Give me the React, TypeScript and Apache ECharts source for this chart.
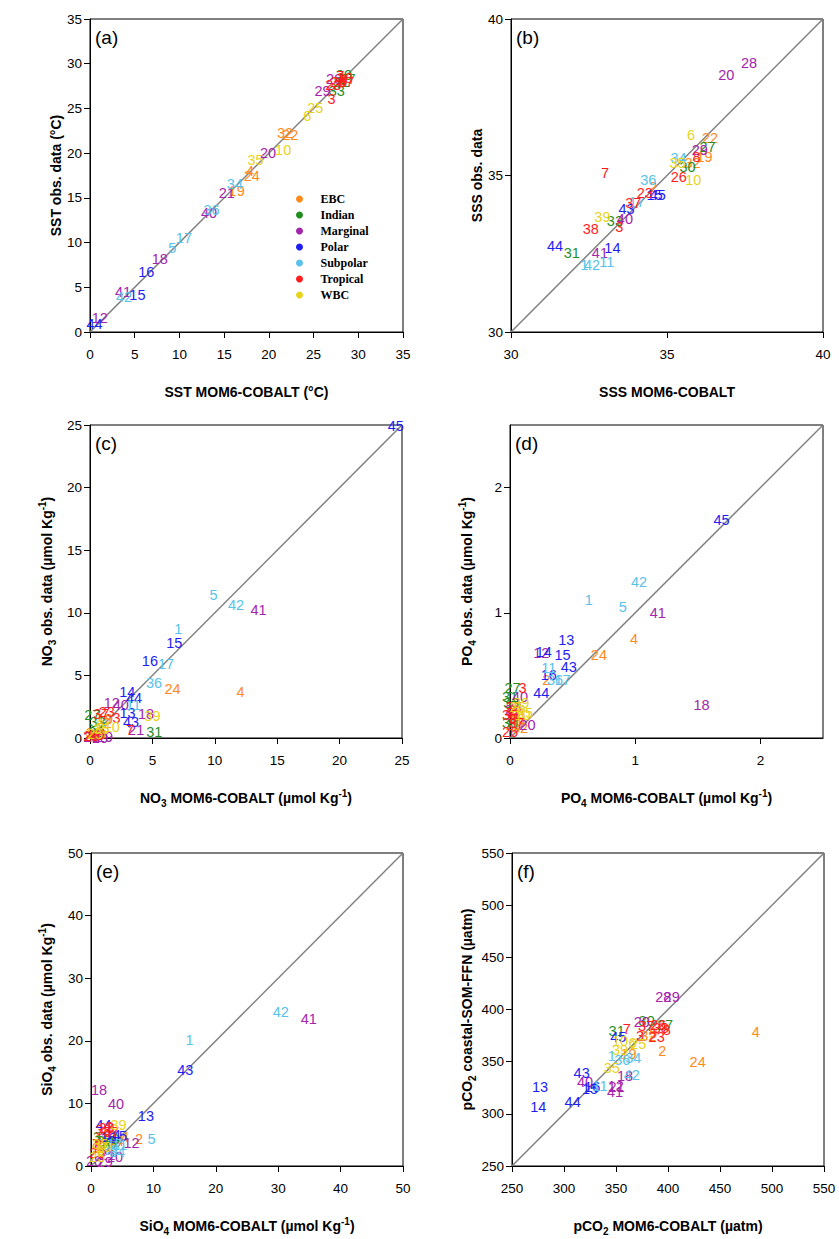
import React, { useEffect, useRef } from 'react';
import * as echarts from 'echarts';

const FONT = '"Liberation Sans", Arial, Helvetica, sans-serif';
const SERIF = '"Liberation Serif", "Times New Roman", serif';

const REGIONS = ['EBC', 'Indian', 'Marginal', 'Polar', 'Subpolar', 'Tropical', 'WBC'];
const REGION_COLORS = ['#FF8A1C', '#1F8E1F', '#A424AC', '#1E1EF2', '#58C2EA', '#FF1C1C', '#E8D31C'];

// region of each site, sites 1..45
const SITE_REGION = [
  'Subpolar', 'EBC', 'Tropical', 'EBC', 'Subpolar', 'WBC', 'Tropical', 'Tropical', 'EBC', 'WBC',
  'Subpolar', 'Marginal', 'Polar', 'Polar', 'Polar', 'Polar', 'Subpolar', 'Marginal', 'EBC', 'Marginal',
  'Marginal', 'EBC', 'Tropical', 'EBC', 'WBC', 'Tropical', 'Indian', 'Marginal', 'Marginal', 'Indian',
  'Indian', 'EBC', 'Indian', 'Subpolar', 'WBC', 'Subpolar', 'Tropical', 'Tropical', 'WBC', 'Marginal',
  'Marginal', 'Subpolar', 'Polar', 'Polar', 'Polar',
];

type Pt = [number, number, number]; // [site, model, obs]

const SST: Pt[] = [
  [44, 0.5, 0.9], [12, 1.1, 1.6],
  [42, 3.8, 3.9], [41, 3.7, 4.5], [15, 5.3, 4.1],
  [16, 6.3, 6.7], [18, 7.8, 8.2], [5, 9.2, 9.4], [17, 10.5, 10.5], [40, 13.3, 13.3], [36, 13.6, 13.6],
  [21, 15.3, 15.5], [19, 16.4, 15.8], [34, 16.2, 16.6], [24, 18.1, 17.4], [4, 17.9, 18.0], [35, 18.5, 19.2],
  [20, 19.9, 20.0], [10, 21.6, 20.3], [32, 21.8, 22.2], [22, 22.4, 22.0], [6, 24.3, 24.2], [25, 25.2, 25.0],
  [29, 26.0, 26.9], [3, 27.0, 26.1], [33, 27.6, 26.9], [23, 27.2, 27.6], [28, 27.3, 28.3], [26, 27.8, 28.0],
  [7, 28.0, 28.6], [8, 28.3, 28.2], [31, 28.1, 27.9], [30, 28.4, 28.7], [37, 28.6, 28.0], [38, 28.5, 28.4],
  [27, 28.8, 28.3],
];

const SSS: Pt[] = [
  [28, 37.63, 38.6], [20, 36.9, 38.2], [6, 35.77, 36.3], [22, 36.38, 36.2], [27, 36.3, 35.9],
  [29, 36.05, 35.8], [8, 35.95, 35.6], [19, 36.2, 35.6], [34, 35.37, 35.55], [35, 35.34, 35.4],
  [32, 35.82, 35.4], [30, 35.66, 35.28], [26, 35.38, 34.96], [10, 35.84, 34.86], [7, 33.01, 35.07],
  [36, 34.4, 34.86], [2, 34.56, 34.64], [23, 34.29, 34.43], [15, 34.6, 34.38], [45, 34.7, 34.38],
  [37, 33.92, 34.11], [17, 34.03, 34.16], [43, 33.7, 33.92], [39, 32.93, 33.68], [38, 32.56, 33.3],
  [3, 33.47, 33.36], [33, 33.33, 33.55], [40, 33.65, 33.6], [44, 31.41, 32.75], [31, 31.95, 32.53],
  [41, 32.85, 32.53], [14, 33.25, 32.67], [1, 32.35, 32.14], [42, 32.6, 32.14], [11, 33.07, 32.25],
];

const NO3: Pt[] = [
  [28, 0.1, 0.05], [22, 0.2, 0.1], [26, 0.1, 0.15], [38, 0.5, 0.2], [25, 0.4, 0.3], [32, 0.3, 0.4],
  [30, 0.5, 0.5], [20, 0.8, 0.0], [9, 1.0, 0.3], [35, 0.9, 0.7], [6, 0.8, 1.0], [33, 0.6, 1.3],
  [19, 1.2, 1.5], [37, 0.9, 1.9], [2, 1.4, 1.2], [29, 1.2, 0.1], [10, 1.74, 0.9], [27, 0.18, 1.84],
  [3, 2.13, 1.62], [23, 1.34, 2.1], [12, 1.74, 2.82], [40, 2.46, 2.64], [11, 3.47, 2.64],
  [14, 2.99, 3.65], [44, 3.53, 3.22], [13, 3.0, 1.97], [43, 3.29, 1.3], [18, 4.49, 1.89], [39, 5.0, 1.78],
  [7, 3.2, 0.6], [21, 3.7, 0.6], [31, 5.15, 0.45], [36, 5.13, 4.37], [24, 6.62, 3.92], [4, 12.07, 3.65],
  [16, 4.8, 6.15], [17, 6.09, 5.88], [15, 6.76, 7.56], [1, 7.08, 8.7], [5, 9.9, 11.4], [42, 11.7, 10.6],
  [41, 13.5, 10.2], [45, 24.5, 24.9],
];

const PO4: Pt[] = [
  [26, 0.0, 0.05], [32, 0.08, 0.08], [22, 0.03, 0.1], [37, 0.05, 0.12], [30, 0.0, 0.12], [8, 0.02, 0.15],
  [19, 0.06, 0.15], [10, 0.1, 0.18], [38, 0.0, 0.18], [7, 0.0, 0.2], [9, 0.04, 0.2], [35, 0.12, 0.2],
  [6, 0.08, 0.22], [21, 0.02, 0.22], [25, 0.06, 0.25], [23, 0.03, 0.25], [39, 0.09, 0.28], [33, 0.01, 0.28],
  [20, 0.14, 0.1], [31, 0.0, 0.33], [40, 0.08, 0.33], [27, 0.02, 0.4], [3, 0.1, 0.4], [44, 0.25, 0.36],
  [2, 0.29, 0.46], [36, 0.36, 0.46], [17, 0.42, 0.46], [16, 0.31, 0.5], [11, 0.31, 0.56], [43, 0.47, 0.57],
  [15, 0.42, 0.66], [24, 0.71, 0.66], [12, 0.25, 0.68], [14, 0.27, 0.69], [13, 0.45, 0.78], [4, 0.99, 0.79],
  [41, 1.18, 1.0], [5, 0.9, 1.05], [1, 0.63, 1.1], [42, 1.03, 1.25], [18, 1.53, 0.26], [45, 1.69, 1.74],
];

const SIO4: Pt[] = [
  [28, 0.5, 0.8], [25, 1.0, 1.5], [26, 1.0, 2.0], [6, 1.5, 2.5], [9, 0.8, 2.8], [10, 2.0, 3.0],
  [8, 1.2, 3.3], [7, 0.8, 3.5], [35, 1.5, 3.5], [36, 3.0, 2.5], [34, 4.2, 2.2], [21, 2.6, 1.8],
  [22, 2.5, 3.2], [33, 2.8, 3.6], [17, 3.8, 3.5], [19, 3.6, 3.8], [27, 2.2, 4.0], [24, 4.0, 4.0],
  [32, 1.8, 4.2], [30, 3.3, 4.3], [16, 2.8, 4.5], [31, 1.6, 4.6], [15, 4.5, 4.8], [14, 3.5, 5.0],
  [37, 3.2, 5.5], [38, 2.0, 5.8], [23, 2.5, 6.0], [29, 2.2, 0.7], [20, 3.85, 1.5], [3, 3.0, 6.3],
  [44, 2.0, 6.5], [39, 4.4, 6.5], [11, 4.6, 3.4], [4, 5.45, 4.7], [12, 6.5, 3.6], [2, 7.7, 4.3],
  [5, 9.7, 4.3], [13, 8.8, 8.0], [40, 4.0, 9.9], [18, 1.28, 12.1], [43, 15.1, 15.4], [1, 15.8, 20.2],
  [42, 30.4, 24.6], [41, 34.9, 23.5],
];

const PCO2: Pt[] = [
  [14, 275.3, 306.1], [13, 276.9, 325.6], [44, 308.3, 311.8], [43, 317, 339.1], [40, 320.2, 330.1],
  [15, 325.0, 324.0], [16, 327.2, 325.6], [11, 334.6, 326.3], [41, 349, 320.5], [12, 349.7, 326.9],
  [21, 350.5, 325.5], [18, 358.7, 335.9], [42, 365.1, 337.5], [35, 345.9, 343.9], [1, 345.9, 355.1],
  [36, 356, 352], [34, 366.6, 353.6], [19, 362, 357], [39, 353.8, 360.9], [6, 366, 368], [25, 371.4, 367],
  [10, 353.8, 369.5], [45, 352.2, 373.7], [31, 350.6, 379.1], [7, 360.3, 381.4], [3, 373.1, 375],
  [32, 381, 375], [9, 386, 377], [23, 389.1, 373.7], [37, 379, 384], [20, 374.7, 387.8], [30, 379.5, 388.8],
  [26, 390.7, 385.6], [38, 393, 382], [27, 397.1, 385.6], [8, 398.8, 380.8], [2, 394.5, 359.9],
  [24, 428.5, 349.3], [4, 484.3, 378.2], [28, 395.5, 412.2], [29, 403.5, 412.2],
];

const SST_TICKS = [0, 5, 10, 15, 20, 25, 30, 35];
const SSS_TICKS = [30, 35, 40];
const NO3_TICKS = [0, 5, 10, 15, 20, 25];
const PO4_TICKS = [0, 1, 2];
const PO4_RANGE = [0, 2.5];
const SIO4_TICKS = [0, 10, 20, 30, 40, 50];
const PCO2_TICKS = [250, 300, 350, 400, 450, 500, 550];

const SST_TITLES = ['SST MOM6-COBALT (°C)', 'SST obs. data (°C)'];
const SSS_TITLES = ['SSS MOM6-COBALT', 'SSS obs. data'];
const NO3_TITLES = ['{n|NO}{s|3}{n| MOM6-COBALT (µmol Kg}{p|-1}{n|)}', '{n|NO}{s|3}{n| obs. data (µmol Kg}{p|-1}{n|)}'];
const PO4_TITLES = ['{n|PO}{s|4}{n| MOM6-COBALT (µmol Kg}{p|-1}{n|)}', '{n|PO}{s|4}{n| obs. data (µmol Kg}{p|-1}{n|)}'];
const SIO4_TITLES = ['{n|SiO}{s|4}{n| MOM6-COBALT (µmol Kg}{p|-1}{n|)}', '{n|SiO}{s|4}{n| obs. data (µmol Kg}{p|-1}{n|)}'];
const PCO2_TITLES = ['{n|pCO}{s|2}{n| MOM6-COBALT (µatm)}', '{n|pCO}{s|2}{n| coastal-SOM-FFN (µatm)}'];

const PANELS = [
  { tag: '(a)', data: SST, ticks: SST_TICKS, range: [0, 35], titles: SST_TITLES, rich: false, box: [90, 19, 313, 313], xGap: 53, yGap: 25 },
  { tag: '(b)', data: SSS, ticks: SSS_TICKS, range: [30, 40], titles: SSS_TITLES, rich: false, box: [511, 19, 312, 313], xGap: 53, yGap: 26 },
  { tag: '(c)', data: NO3, ticks: NO3_TICKS, range: [0, 25], titles: NO3_TITLES, rich: true, box: [90, 425, 312, 313], xGap: 50, yGap: 33 },
  { tag: '(d)', data: PO4, ticks: PO4_TICKS, range: PO4_RANGE, titles: PO4_TITLES, rich: true, box: [510, 425, 313, 313], xGap: 50, yGap: 33 },
  { tag: '(e)', data: SIO4, ticks: SIO4_TICKS, range: [0, 50], titles: SIO4_TITLES, rich: true, box: [91, 853, 312, 313], xGap: 50, yGap: 34 },
  { tag: '(f)', data: PCO2, ticks: PCO2_TICKS, range: [250, 550], titles: PCO2_TITLES, rich: true, box: [512, 853, 312, 313], xGap: 50, yGap: 35 },
];

const RICH = {
  n: { fontSize: 14, fontWeight: 'bold', fontFamily: FONT, color: '#000', lineHeight: 20, verticalAlign: 'middle' },
  s: { fontSize: 10, fontWeight: 'bold', fontFamily: FONT, color: '#000', lineHeight: 10, verticalAlign: 'bottom' },
  p: { fontSize: 10, fontWeight: 'bold', fontFamily: FONT, color: '#000', lineHeight: 10, verticalAlign: 'top' },
};

function axisFor(p: any, i: number, isX: boolean) {
  return {
    type: 'value',
    gridIndex: i,
    min: p.range[0],
    max: p.range[1],
    interval: p.ticks[1] - p.ticks[0],
    axisLine: { show: true, onZero: false, lineStyle: { color: '#000', width: 1 } },
    axisTick: { show: true, inside: false, length: 6, lineStyle: { color: '#000', width: 1 }, customValues: p.ticks },
    axisLabel: { show: true, customValues: p.ticks, fontSize: 13.5, color: '#000', fontFamily: FONT, margin: isX ? 15 : 8 },
    splitLine: { show: false },
    name: isX ? p.titles[0] : p.titles[1],
    nameLocation: 'middle',
    nameGap: isX ? p.xGap : p.yGap,
    nameTextStyle: {
      fontSize: 14,
      fontWeight: 'bold',
      fontFamily: FONT,
      color: '#000',
      rich: p.rich ? RICH : undefined,
    },
  };
}

function buildOption() {
  const grid: any[] = [];
  const xAxis: any[] = [];
  const yAxis: any[] = [];
  const series: any[] = [];
  const graphic: any[] = [];

  PANELS.forEach((p, i) => {
    const [left, top, width, height] = p.box;
    grid.push({ left, top, width, height, show: true, borderColor: '#000', borderWidth: 1, backgroundColor: 'transparent', containLabel: false, outerBoundsMode: 'none' });
    xAxis.push(axisFor(p, i, true));
    yAxis.push(axisFor(p, i, false));

    series.push({
      type: 'line',
      xAxisIndex: i,
      yAxisIndex: i,
      data: [[p.range[0], p.range[0]], [p.range[1], p.range[1]]],
      symbol: 'none',
      silent: true,
      lineStyle: { color: '#808080', width: 1.5 },
      z: 1,
    });

    REGIONS.forEach((r, ri) => {
      series.push({
        type: 'scatter',
        name: r,
        xAxisIndex: i,
        yAxisIndex: i,
        symbol: 'circle',
        symbolSize: 0,
        clip: false,
        silent: true,
        itemStyle: { color: REGION_COLORS[ri], opacity: 1 },
        label: {
          show: true,
          position: 'inside',
          formatter: '{b}',
          color: REGION_COLORS[ri],
          fontSize: 14.5,
          fontFamily: FONT,
          opacity: 1,
        },
        data: p.data
          .filter((d) => SITE_REGION[d[0] - 1] === r)
          .map((d) => ({ name: String(d[0]), value: [d[1], d[2]] })),
        z: 3,
      });
    });

    graphic.push({
      type: 'text',
      left: left + 5,
      top: top + 9,
      style: { text: p.tag, fontSize: 19, fontFamily: FONT, fill: '#000' },
      silent: true,
    });
  });

  return {
    animation: false,
    backgroundColor: '#fff',
    grid,
    xAxis,
    yAxis,
    series,
    graphic,
    legend: {
      data: REGIONS,
      orient: 'vertical',
      left: 296,
      top: 193,
      padding: 0,
      icon: 'circle',
      itemWidth: 16,
      itemHeight: 7,
      itemGap: 4,
      selectedMode: false,
      itemStyle: { opacity: 1 },
      textStyle: { fontFamily: SERIF, fontWeight: 'bold', fontSize: 12, color: '#000', padding: [0, 0, 0, 8] },
    },
  };
}

export default function App() {
  const ref = useRef<HTMLDivElement>(null);
  useEffect(() => {
    if (!ref.current) return;
    const chart = echarts.init(ref.current, undefined, { renderer: 'svg' });
    chart.setOption(buildOption() as any);
    return () => chart.dispose();
  }, []);
  return <div ref={ref} style={{ position: 'absolute', left: 0, top: 0, width: 839, height: 1239, background: '#fff' }} />;
}
